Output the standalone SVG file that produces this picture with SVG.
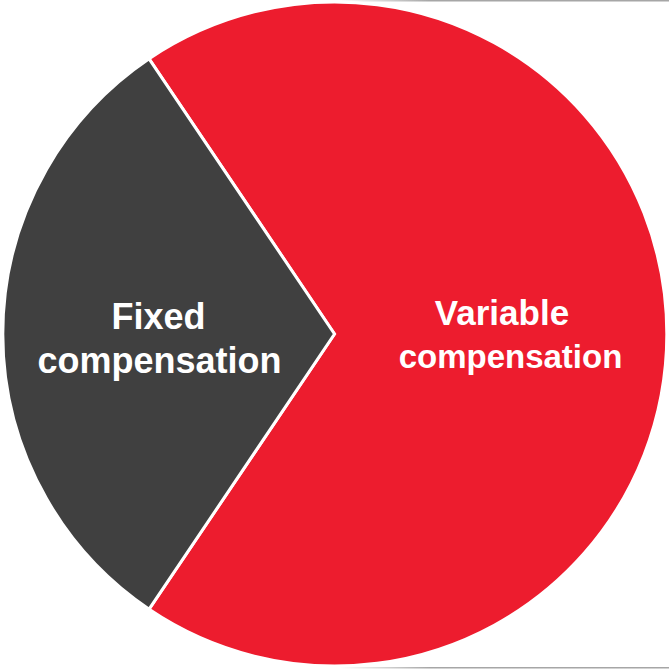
<svg xmlns="http://www.w3.org/2000/svg" width="669" height="669" viewBox="0 0 669 669">
  <style>
    .slice { stroke: #ffffff; stroke-width: 3; stroke-linejoin: miter; }
    .lbl { font-family: "Liberation Sans", Arial, sans-serif; font-weight: bold; fill: #ffffff; text-anchor: middle; }
  </style>
  <defs>
    <linearGradient id="fadeTop" x1="340" y1="0" x2="430" y2="0" gradientUnits="userSpaceOnUse">
      <stop offset="0" stop-color="#a6a6a6" stop-opacity="0"/>
      <stop offset="1" stop-color="#a6a6a6" stop-opacity="1"/>
    </linearGradient>
  </defs>
  <rect x="0" y="0" width="669" height="669" fill="#ffffff"/>
  <line x1="340" y1="0.75" x2="669" y2="0.75" stroke="url(#fadeTop)" stroke-width="1.5"/>
  <line x1="340" y1="667.75" x2="669" y2="667.75" stroke="url(#fadeTop)" stroke-width="1.5"/>
  <g id="variable">
    <path class="slice" fill="#ED1C2E" d="M334.5,334 L149.1,58.8 A332,332 0 1 1 149.1,609.2 Z"/>
    <text class="lbl" x="502" y="325" font-size="35">Variable</text>
    <text class="lbl" x="510.5" y="368" font-size="33">compensation</text>
  </g>
  <g id="fixed">
    <path class="slice" fill="#404040" d="M334.5,334 L149.1,609.2 A332,332 0 0 1 149.1,58.8 Z"/>
    <text class="lbl" x="158.5" y="329" font-size="36">Fixed</text>
    <text class="lbl" x="159.5" y="372.5" font-size="36">compensation</text>
  </g>
  <g id="connectors"/>
</svg>
